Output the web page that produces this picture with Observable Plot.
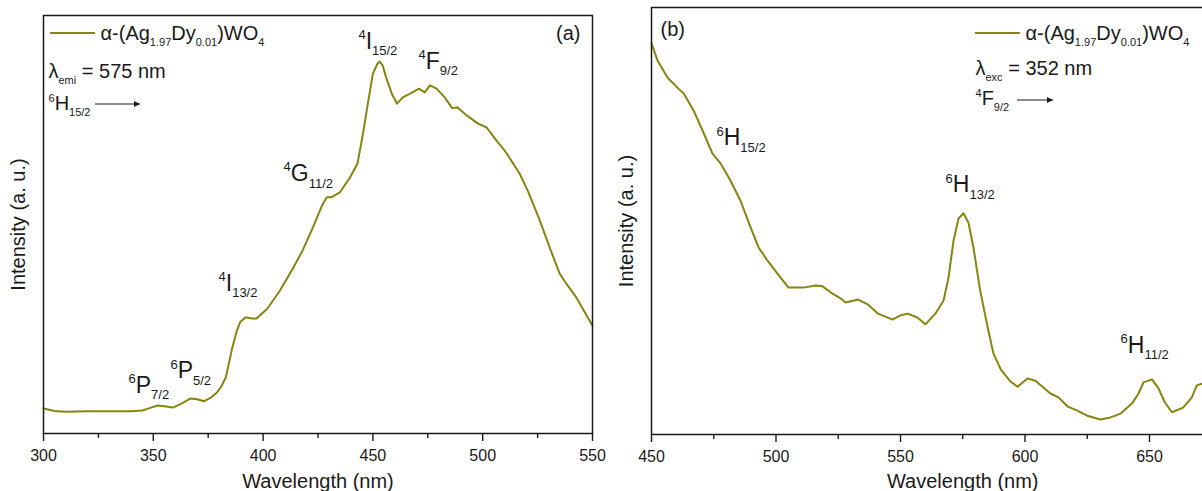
<!DOCTYPE html>
<html><head><meta charset="utf-8">
<script src="https://cdn.jsdelivr.net/npm/d3@7"></script>
<script src="https://cdn.jsdelivr.net/npm/@observablehq/plot@0.6"></script>
<style>
html,body{margin:0;padding:0;background:#fff;}
#wrap{position:relative;width:1202px;height:491px;overflow:hidden;background:#fff;}
#wrap svg{position:absolute;top:0;overflow:visible;}
</style></head><body><div id="wrap"></div>
<script>
// ---- Panel (a): excitation spectrum (lambda_emi = 575 nm) ----
const emWavelength = [300,305,310,320,330,340,345,349,352,355,359,363,367,370,373,376,379,381,383,386,388,389.5,392,395,397,402,407.7,413.8,418,422.7,426.8,429,431,435,439.5,443,445.5,447.7,450,452,453,454.5,456,458.6,461,463.6,468,471,473.6,476,479,482.7,486,488.6,492.7,497.7,501.8,505.5,510,516.8,520.5,526,530.5,535,538,542.7,550];
const emIntensity = [6.0,5.4,5.2,5.3,5.3,5.3,5.5,6.2,6.7,6.5,6.2,7.2,8.4,8.2,7.7,8.5,9.8,11.3,13.4,20.6,24.5,26.6,27.8,27.5,27.5,29.9,34.2,39.7,43.8,49.3,54.5,56.5,56.5,57.7,61.2,64.6,71.8,78.9,86.1,88.4,89.0,88.0,85.2,81.3,78.9,80.4,81.6,82.5,81.6,83.3,82.5,80.4,77.9,78.0,76.1,74.2,73.2,70.6,67.7,62.2,58.1,51.0,44.5,38.3,35.9,32.5,25.8];
const ticksA = [300,350,400,450,500,550];
const minorTicksA = [325,375,425,475,525];
const transLabelsA = ["^4|I|_15/2","^4|F|_9/2","^4|G|_11/2","^4|I|_13/2","^6|P|_7/2","^6|P|_5/2"];
const transXA = [443.4,470.8,409.3,379.7,338.7,357.8];
const transYA = [92.1,87.3,60.5,34.2,9.8,13.2];

// ---- Panel (b): emission spectrum (lambda_exc = 352 nm) ----
const exWavelength = [450,452.4,456.4,460.8,462.9,466.9,470.5,474.5,477.7,481.7,485.7,489.8,493,496.6,500.6,505,511,515.9,518.7,521.9,525.9,527.9,533,537,541,546.8,550,552.8,556.8,560,564,567.3,569.3,571.3,573.3,575.3,577.3,579.3,582,585,587.3,590.3,594.2,597,601,604.2,607,610.2,613.5,617,621,625,630.3,634.3,638.4,643,645.6,647.6,651,653.6,656.2,659,663.5,667,669,671];
const exIntensity = [91.6,87.6,83.6,81.0,79.9,75.9,71.2,65.8,63.5,59.5,54.8,48.5,43.8,40.7,37.7,34.4,34.4,34.9,34.7,33.3,31.9,30.9,31.6,30.4,28.3,26.9,27.9,28.3,27.4,25.8,28.3,31.4,36.8,45.4,50.6,51.8,49.6,43.8,33.7,25.1,19.0,15.2,12.4,11.2,13.1,12.6,11.2,9.6,8.7,6.6,5.6,4.4,3.5,4.0,4.9,7.3,9.6,12.2,12.9,10.8,7.5,5.2,6.3,8.7,11.5,11.9];
const ticksB = [450,500,550,600,650];
const minorTicksB = [475,525,575,625];
const transLabelsB = ["^6|H|_15/2","^6|H|_13/2","^6|H|_11/2"];
const transXB = [476.1,568.1,638.4];
const transYB = [67.7,56.7,19.2];

const seriesName = "α-(Ag|_1.97|Dy|_0.01|)WO|_4";
const xTitle = "Wavelength (nm)";
const yTitle = "Intensity (a. u.)";

const OLIVE = "#85850f";
const INK = "#1a1a1a";
const FONT = "'Liberation Sans', Arial, sans-serif";

const emData = emWavelength.map((w, i) => ({w, v: emIntensity[i]}));
const exData = exWavelength.map((w, i) => ({w, v: exIntensity[i]}));
const annA = transLabelsA.map((t, i) => ({t, x: transXA[i], y: transYA[i]}));
const annB = transLabelsB.map((t, i) => ({t, x: transXB[i], y: transYB[i]}));

function note(str, opts) {
  return Plot.text([str], {frameAnchor: "top-left", textAnchor: "start", lineAnchor: "middle", fontSize: 20, fill: INK, ...opts});
}

function panel({data, ann, domain, ticks, minor, width, mL, mR, mT, mB, extra}) {
  return Plot.plot({
    width, height: 491,
    marginLeft: mL, marginRight: mR, marginTop: mT, marginBottom: mB,
    style: {fontFamily: FONT, color: INK, background: "transparent", overflow: "visible"},
    x: {domain, axis: null},
    y: {domain: [0, 100], axis: null},
    marks: [
      Plot.axisX({ticks: minor, tickSize: 5, fill: "none", strokeWidth: 1.4, stroke: INK}),
      Plot.axisX({ticks, tickSize: 8, tickPadding: 8, fontSize: 16, strokeWidth: 1.4, stroke: INK, fill: INK, label: null}),
      Plot.line(data, {x: "w", y: "v", stroke: OLIVE, strokeWidth: 2}),
      Plot.text(ann, {x: "x", y: "y", text: "t", textAnchor: "start", lineAnchor: "bottom", fontSize: 23, fill: INK}),
      Plot.text([xTitle], {frameAnchor: "bottom", textAnchor: "middle", lineAnchor: "middle", dy: mB - 10, fontSize: 20, fill: INK}),
      Plot.text([yTitle], {frameAnchor: "left", textAnchor: "middle", lineAnchor: "middle", rotate: -90, dx: -25, fontSize: 20, fill: INK}),
      ...extra,
      Plot.frame({stroke: INK, strokeWidth: 1.5})
    ]
  });
}

const plotA = panel({
  data: emData, ann: annA, domain: [300, 550], ticks: ticksA, minor: minorTicksA,
  width: 600, mL: 43, mR: 8, mT: 15, mB: 58,
  extra: [
    note(seriesName, {dx: 57, dy: 18}),
    Plot.text(["(a)"], {frameAnchor: "top-right", textAnchor: "end", lineAnchor: "middle", dx: -12, dy: 18, fontSize: 20, fill: INK}),
    note("λ|_emi| = 575 nm", {dx: 5, dy: 56}),
    note("^6|H|_15/2", {dx: 5, dy: 88})
  ]
});
const plotB = panel({
  data: exData, ann: annB, domain: [450, 700], ticks: ticksB, minor: minorTicksB,
  width: 700, mL: 51, mR: 26.5, mT: 7, mB: 57,
  extra: [
    note(seriesName, {dx: 374, dy: 26}),
    note("(b)", {dx: 9, dy: 22}),
    note("λ|_exc| = 352 nm", {dx: 324, dy: 61}),
    note("^4|F|_9/2", {dx: 324, dy: 91})
  ]
});

const wrap = document.getElementById("wrap");
plotA.style.left = "0px";
plotB.style.left = "600px";
wrap.appendChild(plotA);
wrap.appendChild(plotB);

const NS = "http://www.w3.org/2000/svg";
function enrich(svg) {
  svg.querySelectorAll("text").forEach(t => {
    const s = t.textContent;
    if (!s.includes("|")) return;
    const size = parseFloat(getComputedStyle(t).fontSize) || 20;
    const small = Math.round(size * 0.56);
    while (t.firstChild) t.removeChild(t.firstChild);
    let shift = 0;
    for (const tok of s.split("|")) {
      if (!tok) continue;
      const kind = tok[0] === "^" ? "sup" : tok[0] === "_" ? "sub" : "n";
      const str = kind === "n" ? tok : tok.slice(1);
      const target = kind === "sup" ? -size * 0.42 : kind === "sub" ? size * 0.3 : 0;
      const ts = document.createElementNS(NS, "tspan");
      ts.setAttribute("dy", (target - shift).toFixed(2));
      if (kind !== "n") ts.setAttribute("font-size", small);
      ts.textContent = str;
      t.appendChild(ts);
      shift = target;
    }
  });
}
enrich(plotA);
enrich(plotB);

function decorate(svg, legendLine, arrow) {
  const s = d3.select(svg);
  const id = "ah" + Math.random().toString(36).slice(2, 7);
  s.append("defs").append("marker")
    .attr("id", id).attr("viewBox", "0 0 10 10").attr("refX", 10).attr("refY", 5)
    .attr("markerWidth", 9).attr("markerHeight", 6).attr("orient", "auto")
    .attr("markerUnits", "userSpaceOnUse")
    .append("path").attr("d", "M0,0L10,5L0,10z").attr("fill", INK);
  s.append("line").attr("x1", legendLine[0]).attr("x2", legendLine[1])
    .attr("y1", legendLine[2]).attr("y2", legendLine[2])
    .attr("stroke", OLIVE).attr("stroke-width", 2);
  s.append("line").attr("x1", arrow[0]).attr("x2", arrow[1])
    .attr("y1", arrow[2]).attr("y2", arrow[2])
    .attr("stroke", INK).attr("stroke-width", 1).attr("marker-end", `url(#${id})`);
}
decorate(plotA, [50, 95, 33], [95, 140, 104]);
decorate(plotB, [375, 420, 33], [417, 453, 100]);
</script></body></html>
